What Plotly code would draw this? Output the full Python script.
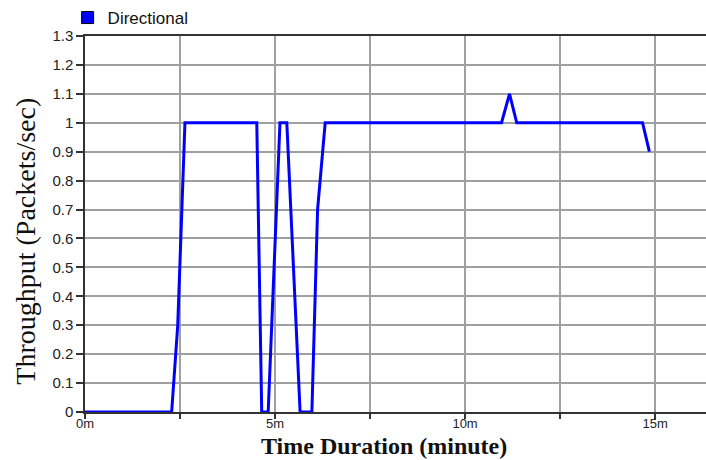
import plotly.graph_objects as go

# Data
time_min = [0, 2.28, 2.44, 2.63, 4.52, 4.65, 4.82, 5.13, 5.31, 5.66, 5.97, 6.12, 6.32,
            10.96, 11.17, 11.36, 14.67, 14.85]
throughput = [0, 0, 0.3, 1, 1, 0, 0, 1, 1, 0, 0, 0.7, 1,
              1, 1.1, 1, 1, 0.9]
series_name = "Directional"

x_tickvals = [0, 2.5, 5, 7.5, 10, 12.5, 15]
x_ticktext = ["0m", "", "5m", "", "10m", "", "15m"]
y_tickvals = [0, 0.1, 0.2, 0.3, 0.4, 0.5, 0.6, 0.7, 0.8, 0.9, 1.0, 1.1, 1.2, 1.3]
y_ticktext = ["0", "0.1", "0.2", "0.3", "0.4", "0.5", "0.6", "0.7", "0.8", "0.9", "1", "1.1", "1.2", "1.3"]
x_title = "Time Duration (minute)"
y_title = "Throughput (Packets/sec)"

fig = go.Figure()
fig.add_trace(go.Scatter(
    x=time_min, y=throughput, mode="lines",
    line=dict(color="#0000ff", width=3),
    showlegend=False, name=series_name,
))
# legend entry (square swatch)
fig.add_trace(go.Scatter(
    x=[None], y=[None], mode="markers", name=series_name,
    marker=dict(symbol="square", size=12, color="#0000ff", line=dict(color="#000000", width=1)),
))

fig.update_layout(
    width=706, height=460,
    margin=dict(l=85, r=0, t=28, b=48),
    paper_bgcolor="white", plot_bgcolor="white",
    font=dict(family="Liberation Sans, Arial", size=15, color="#222222"),
    legend=dict(x=-0.028, y=1.0, xanchor="left", yanchor="bottom",
                font=dict(family="Liberation Sans, Arial", size=17, color="#111111"),
                bgcolor="rgba(0,0,0,0)", borderwidth=0, itemwidth=30,
                tracegroupgap=0),
    xaxis=dict(
        range=[0, 16.34], tickvals=x_tickvals, ticktext=x_ticktext,
        showgrid=True, gridcolor="#a0a0a0", gridwidth=1.5,
        showline=True, linecolor="#333333", linewidth=1.5, mirror=True,
        ticks="outside", ticklen=5, tickcolor="#333333", tickwidth=1.5,
        tickfont=dict(size=13), ticklabelstandoff=-6,
        zeroline=False,
    ),
    yaxis=dict(
        range=[0, 1.3], tickvals=y_tickvals, ticktext=y_ticktext,
        showgrid=True, gridcolor="#a0a0a0", gridwidth=1.5,
        showline=True, linecolor="#333333", linewidth=1.5,
        ticks="outside", ticklen=7, tickcolor="#333333", tickwidth=1.5,
        tickfont=dict(size=15),
        zeroline=False,
    ),
    annotations=[
        dict(text="<b>" + x_title + "</b>", xref="paper", yref="paper",
             x=0.481, y=0, xanchor="center", yanchor="bottom", yshift=-48,
             showarrow=False, borderpad=0,
             font=dict(family="Liberation Serif, Times New Roman", size=24, color="#111111")),
        dict(text=y_title, xref="paper", yref="paper", textangle=-90,
             x=0, y=0.453, xanchor="center", yanchor="middle", xshift=-59,
             showarrow=False,
             font=dict(family="Liberation Serif, Times New Roman", size=28, color="#111111")),
    ],
)

fig.write_html("out.html")
